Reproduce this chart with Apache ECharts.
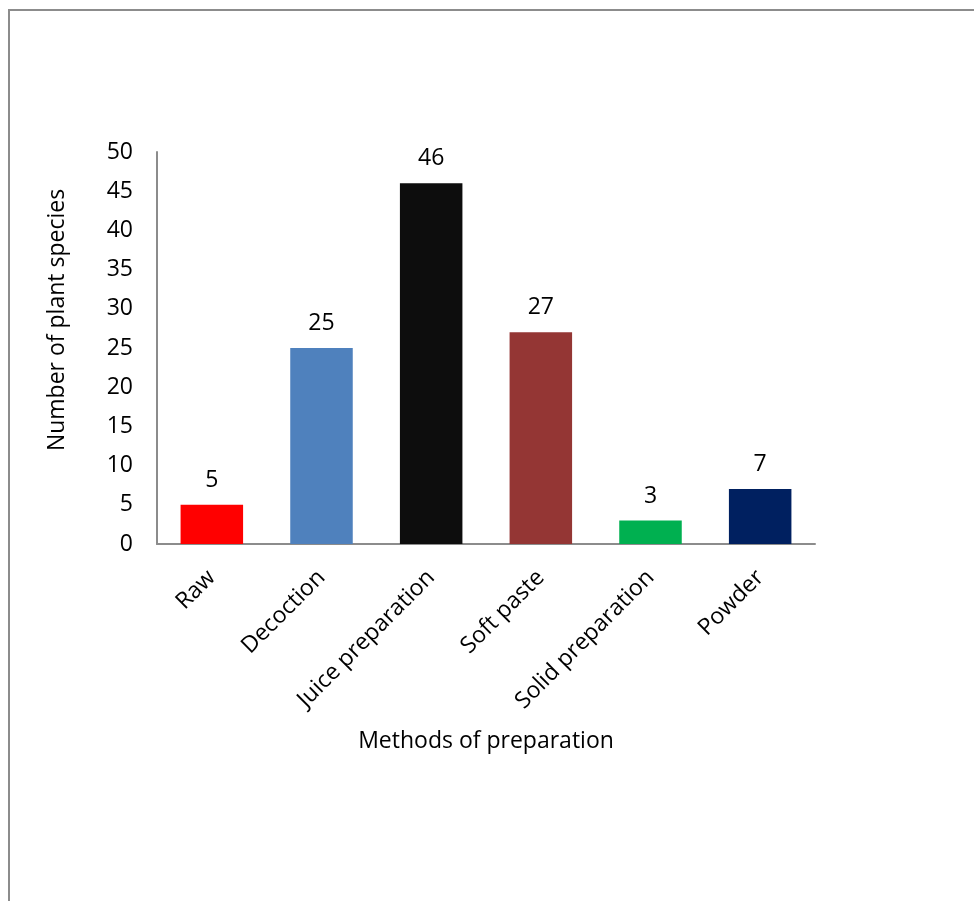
<!DOCTYPE html>
<html>
<head>
<meta charset="utf-8">
<script src="https://cdn.jsdelivr.net/npm/echarts@6/dist/echarts.min.js"></script>
<style>
  html, body { margin: 0; padding: 0; background: #fff; }
  #chart { width: 974px; height: 901px; }
</style>
</head>
<body>
<div id="chart"></div>
<script>
// Preparation methods and number of plant species for each
const methods = ['Raw', 'Decoction', 'Juice preparation', 'Soft paste', 'Solid preparation', 'Powder'];
const speciesCounts = [5, 25, 46, 27, 3, 7];
const barColors = ['#FF0000', '#4F81BD', '#0D0D0D', '#943634', '#00B050', '#002060'];
const yTicks = [0, 5, 10, 15, 20, 25, 30, 35, 40, 45, 50];

const font = '"Open Sans", "Noto Sans", sans-serif';
const chart = echarts.init(document.getElementById('chart'), null, { renderer: 'canvas' });

chart.setOption({
  animation: false,
  backgroundColor: '#ffffff',
  graphic: [{
    type: 'rect',
    shape: { x: 9, y: 10, width: 1000, height: 1000 },
    style: { fill: 'none', stroke: '#8c8c8c', lineWidth: 2 },
    silent: true
  }],
  grid: { left: 157, top: 152, width: 658, height: 392, containLabel: false },
  xAxis: {
    type: 'category',
    data: methods,
    name: 'Methods of preparation',
    nameLocation: 'middle',
    nameGap: 186,
    nameTextStyle: { fontFamily: font, fontSize: 23, color: '#000' },
    axisLine: { lineStyle: { color: '#8c8c8c', width: 2 } },
    axisTick: { show: false },
    axisLabel: { rotate: 45, fontFamily: font, fontSize: 23, color: '#000', margin: 30, interval: 0 }
  },
  yAxis: {
    type: 'value',
    min: yTicks[0],
    max: yTicks[yTicks.length - 1],
    interval: yTicks[1] - yTicks[0],
    name: 'Number of plant species',
    nameLocation: 'middle',
    nameGap: 88,
    nameTextStyle: { fontFamily: font, fontSize: 23, color: '#000', padding: [0, 0, 0, 56] },
    axisLine: { show: true, lineStyle: { color: '#8c8c8c', width: 2 } },
    axisTick: { show: false },
    splitLine: { show: false },
    axisLabel: { fontFamily: font, fontSize: 23, color: '#000', margin: 24 }
  },
  series: [{
    type: 'bar',
    data: speciesCounts.map((v, i) => ({ value: v, itemStyle: { color: barColors[i] } })),
    barWidth: '57%',
    label: {
      show: true,
      position: 'top',
      distance: 13,
      fontFamily: font,
      fontSize: 23,
      color: '#000'
    }
  }]
});
</script>
</body>
</html>
